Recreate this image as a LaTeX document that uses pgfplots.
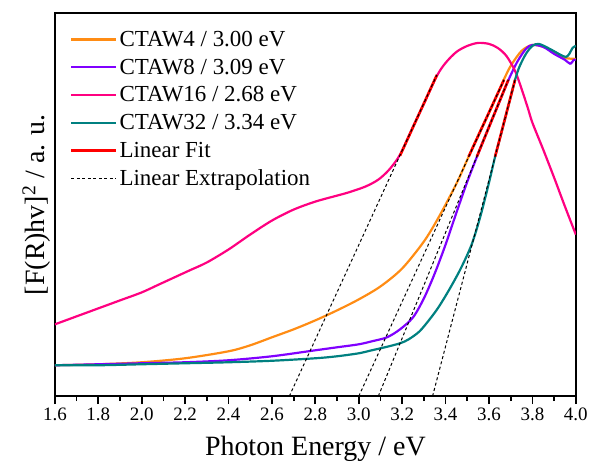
\documentclass[border=0pt]{standalone}
\usepackage{fontspec}
\setmainfont{Liberation Serif}
\usepackage{pgfplots}
\pgfplotsset{compat=1.18}
\usetikzlibrary{calc}

\definecolor{cOrange}{RGB}{255,140,20}
\definecolor{cPurple}{RGB}{128,0,255}
\definecolor{cPink}{RGB}{255,0,128}
\definecolor{cTeal}{RGB}{0,128,128}

\begin{document}
\begin{tikzpicture}
\begin{axis}[
    scale only axis,
    width=522pt, height=384pt,
    xmin=1.6, xmax=4.0, ymin=0, ymax=384,
    xtick={1.6,1.8,2.0,2.2,2.4,2.6,2.8,3.0,3.2,3.4,3.6,3.8,4.0},
    minor x tick num=1,
    ytick=\empty,
    xtick pos=left,
    tick align=outside,
    major tick length=8pt, minor tick length=5pt,
    axis line style={line width=2.2pt},
    every tick/.style={black, line width=1.8pt},
    xticklabel style={font=\fontsize{19}{20}\selectfont,
      /pgf/number format/.cd, fixed, fixed zerofill, precision=1, assume math mode=true},
    xlabel={Photon Energy / eV},
    xlabel style={font=\fontsize{28}{30}\selectfont, at={(axis description cs:0.5,0)}, anchor=base, yshift=-59pt},
    ylabel={[F(R)hv]\textsuperscript{2} / a. u.},
    ylabel style={font=\fontsize{28}{30}\selectfont, at={(axis description cs:-0.02,0.5)}, anchor=base},
    legend cell align=left,
    legend style={draw=none, fill=none, at={(axis description cs:0,1)}, anchor=north west,
      xshift=15pt, yshift=-16pt, font=\fontsize{23}{25}\selectfont,
      row sep=7pt, inner sep=0pt},
    legend image code/.code={\draw[#1] (0pt,0pt) -- (45pt,0pt);},
    every axis plot/.append style={line join=round},
]
% absorption curves
\addplot[cOrange, line width=2.2pt, smooth] coordinates {
(1.6,31) (1.8,32) (2.0,34) (2.2,38) (2.4,45) (2.5,51) (2.6,59) (2.7,67) (2.8,76) (2.9,86)
(3.0,97) (3.1,110) (3.2,128) (3.3,155) (3.37,180) (3.45,213) (3.5,237) (3.55,261) (3.6,284)
(3.65,308) (3.67,318) (3.7,331) (3.75,346) (3.8,352) (3.85,350) (3.9,345) (3.95,339) (4.0,338)};
\addlegendentry{CTAW4 / 3.00 eV}
\addplot[cPurple, line width=2.2pt, smooth] coordinates {
(1.6,31) (1.8,32) (2.0,33) (2.2,34) (2.4,36) (2.6,40) (2.8,46) (2.9,49) (3.0,52) (3.06,55)
(3.13,59) (3.19,67) (3.25,79) (3.3,98) (3.35,123) (3.4,152) (3.45,184) (3.5,215) (3.55,243)
(3.6,270) (3.65,296) (3.69,317) (3.73,335) (3.77,348) (3.8,352) (3.85,350) (3.9,343)
(3.95,337) (3.975,333) (3.99,337) (4.0,337)};
\addlegendentry{CTAW8 / 3.09 eV}
\addplot[cPink, line width=2.2pt, smooth] coordinates {
(1.6,72) (1.75,84) (1.9,96) (2.0,104) (2.08,112) (2.15,119) (2.22,126) (2.3,134) (2.4,147)
(2.5,162) (2.6,176) (2.7,187) (2.8,195) (2.9,201) (2.95,204) (3.03,210) (3.09,217) (3.14,227)
(3.19,242) (3.25,270) (3.3,293) (3.36,321) (3.4,334) (3.45,345) (3.5,351) (3.55,354)
(3.6,353) (3.64,349) (3.68,341) (3.72,326) (3.75,308) (3.78,288) (3.8,274) (3.85,247)
(3.9,219) (3.95,190) (4.0,162)};
\addlegendentry{CTAW16 / 2.68 eV}
\addplot[cTeal, line width=2.2pt, smooth] coordinates {
(1.6,31) (1.8,31) (2.0,32) (2.2,33) (2.4,34) (2.6,35.5) (2.8,38) (2.9,40) (3.0,43) (3.06,46)
(3.12,49) (3.19,53) (3.23,57) (3.28,65) (3.33,78) (3.37,90) (3.42,108) (3.47,128) (3.52,152)
(3.56,180) (3.6,214) (3.628,240) (3.65,258) (3.7,300) (3.72,317) (3.74,330) (3.77,343)
(3.8,351) (3.83,353) (3.88,348) (3.93,342) (3.955,340) (3.97,343) (3.985,349) (4.0,351)};
\addlegendentry{CTAW32 / 3.34 eV}
% linear fits
\addplot[red, line width=2.6pt] coordinates {(3.506,240) (3.669,317)};
\addlegendentry{Linear Fit}
\addplot[red, line width=2.6pt, forget plot] coordinates {(3.544,240) (3.689,317)};
\addplot[red, line width=2.6pt, forget plot] coordinates {(3.19,241) (3.36,322)};
\addplot[red, line width=2.6pt, forget plot] coordinates {(3.628,240) (3.72,317)};
% linear extrapolations
\addplot[black, line width=1pt, dash pattern=on 3pt off 2.5pt] coordinates {(3.0,0) (3.669,317)};
\addlegendentry{Linear Extrapolation}
\addplot[black, line width=1pt, dash pattern=on 3pt off 2.5pt, forget plot] coordinates {(3.09,0) (3.689,317)};
\addplot[black, line width=1pt, dash pattern=on 3pt off 2.5pt, forget plot] coordinates {(2.68,0) (3.36,322)};
\addplot[black, line width=1pt, dash pattern=on 3pt off 2.5pt, forget plot] coordinates {(3.34,0) (3.72,317)};
\coordinate (sw) at (rel axis cs:0,0);
\coordinate (ne) at (rel axis cs:1,1);
\end{axis}
\path ($(sw)+(-55pt,-65pt)$) rectangle ($(ne)+(14pt,13pt)$);
\end{tikzpicture}
\end{document}
